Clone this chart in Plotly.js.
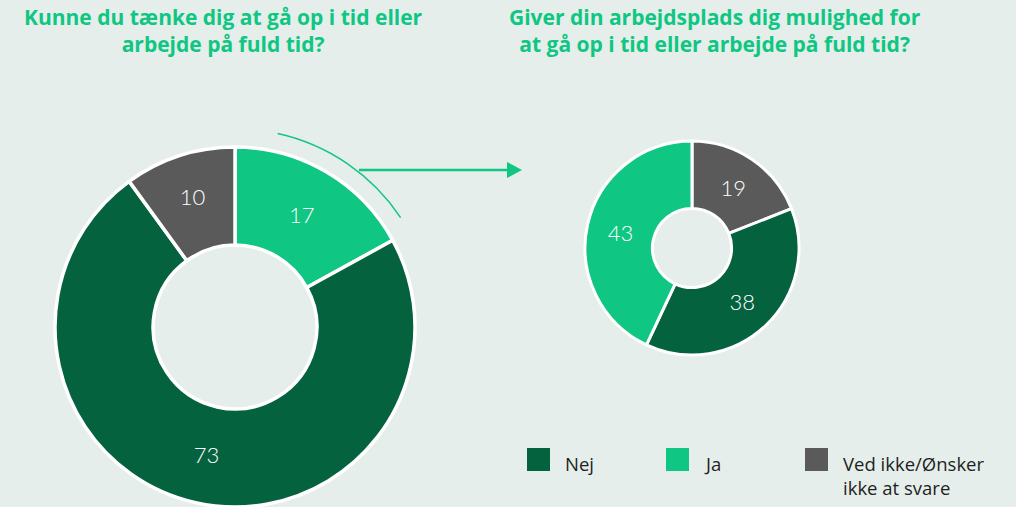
<!DOCTYPE html>
<html>
<head>
<meta charset="utf-8">
<script src="https://cdn.plot.ly/plotly-3.0.1.min.js"></script>
<style>html,body{margin:0;padding:0;background:#e5eeea;}#chart{width:1016px;height:507px;}</style>
</head>
<body>
<div id="chart"></div>
<script>
// Data
const categories = ['Nej', 'Ja', 'Ved ikke/Ønsker<br>ikke at svare'];
const leftLabels = ['Ja', 'Nej', 'Ved ikke'];
const leftValues = [17, 73, 10];
const rightLabels = ['Ved ikke', 'Nej', 'Ja'];
const rightValues = [19, 38, 43];
const leftTitle = 'Kunne du tænke dig at gå op i tid eller<br>arbejde på fuld tid?';
const rightTitle = 'Giver din arbejdsplads dig mulighed for<br>at gå op i tid eller arbejde på fuld tid?';

const colorMap = {'Nej': '#05623f', 'Ja': '#0fc682', 'Ved ikke': '#5a5a5a'};
const legendColors = ['#05623f', '#0fc682', '#5a5a5a'];

const W = 1016, H = 507;
const px = x => x / W;
const py = y => 1 - y / H;

const pieCommon = {
  type: 'pie', sort: false, direction: 'clockwise', rotation: 0,
  textinfo: 'value', textposition: 'inside', insidetextorientation: 'horizontal',
  textfont: {family: 'Lato, sans-serif', size: 22, color: '#ffffff', weight: 300},
  hoverinfo: 'skip', showlegend: false
};

const traces = [
  Object.assign({}, pieCommon, {
    labels: leftLabels, values: leftValues, hole: 0.455,
    marker: {colors: leftLabels.map(l => colorMap[l]), line: {color: '#ffffff', width: 3.5}},
    domain: {x: [px(54), px(416)], y: [0, py(147)]}
  }),
  Object.assign({}, pieCommon, {
    labels: rightLabels, values: rightValues, hole: 0.37,
    marker: {colors: rightLabels.map(l => colorMap[l]), line: {color: '#ffffff', width: 3}},
    domain: {x: [px(585), px(799)], y: [py(355), py(141)]}
  })
];

const shapes = [
  // arc
  {type: 'path', xref: 'paper', yref: 'paper',
   path: `M${px(277.7)},${py(133.6)} C${px(328.0)},${py(144.7)} ${px(372.0)},${py(174.8)} ${px(400.6)},${py(217.6)}`,
   line: {color: '#0fc682', width: 1.5}},
  // arrow line
  {type: 'line', xref: 'paper', yref: 'paper', x0: px(359), x1: px(510), y0: py(170), y1: py(170),
   line: {color: '#0fc682', width: 2.5}},
  // arrow head
  {type: 'path', xref: 'paper', yref: 'paper',
   path: `M${px(507)},${py(162)} L${px(522)},${py(170)} L${px(507)},${py(178)} Z`,
   fillcolor: '#0fc682', line: {color: '#0fc682', width: 0}}
];

const titleFont = {family: '"Open Sans", sans-serif', size: 21, color: '#0fc682', weight: 700};
const annotations = [
  {text: leftTitle, xref: 'paper', yref: 'paper', x: px(223), y: py(31), xanchor: 'center', yanchor: 'middle',
   showarrow: false, align: 'center', font: titleFont},
  {text: rightTitle, xref: 'paper', yref: 'paper', x: px(715), y: py(31), xanchor: 'center', yanchor: 'middle',
   showarrow: false, align: 'center', font: titleFont}
];

// custom legend built from categories
const legX = [527, 666, 805];
categories.forEach((c, i) => {
  shapes.push({type: 'rect', xref: 'paper', yref: 'paper',
    x0: px(legX[i]), x1: px(legX[i] + 23), y0: py(448), y1: py(471),
    fillcolor: legendColors[i], line: {width: 0}});
  annotations.push({text: c, xref: 'paper', yref: 'paper', x: px(legX[i] + 36), y: py(449),
    xanchor: 'left', yanchor: 'top', showarrow: false, align: 'left',
    font: {family: '"Open Sans", sans-serif', size: 18.5, color: '#1e1e1e'}});
});

const layout = {
  width: W, height: H,
  margin: {l: 0, r: 0, t: 0, b: 0},
  paper_bgcolor: '#e5eeea', plot_bgcolor: '#e5eeea',
  shapes: shapes, annotations: annotations, showlegend: false
};

Plotly.newPlot('chart', traces, layout, {staticPlot: true, displayModeBar: false});
</script>
</body>
</html>
